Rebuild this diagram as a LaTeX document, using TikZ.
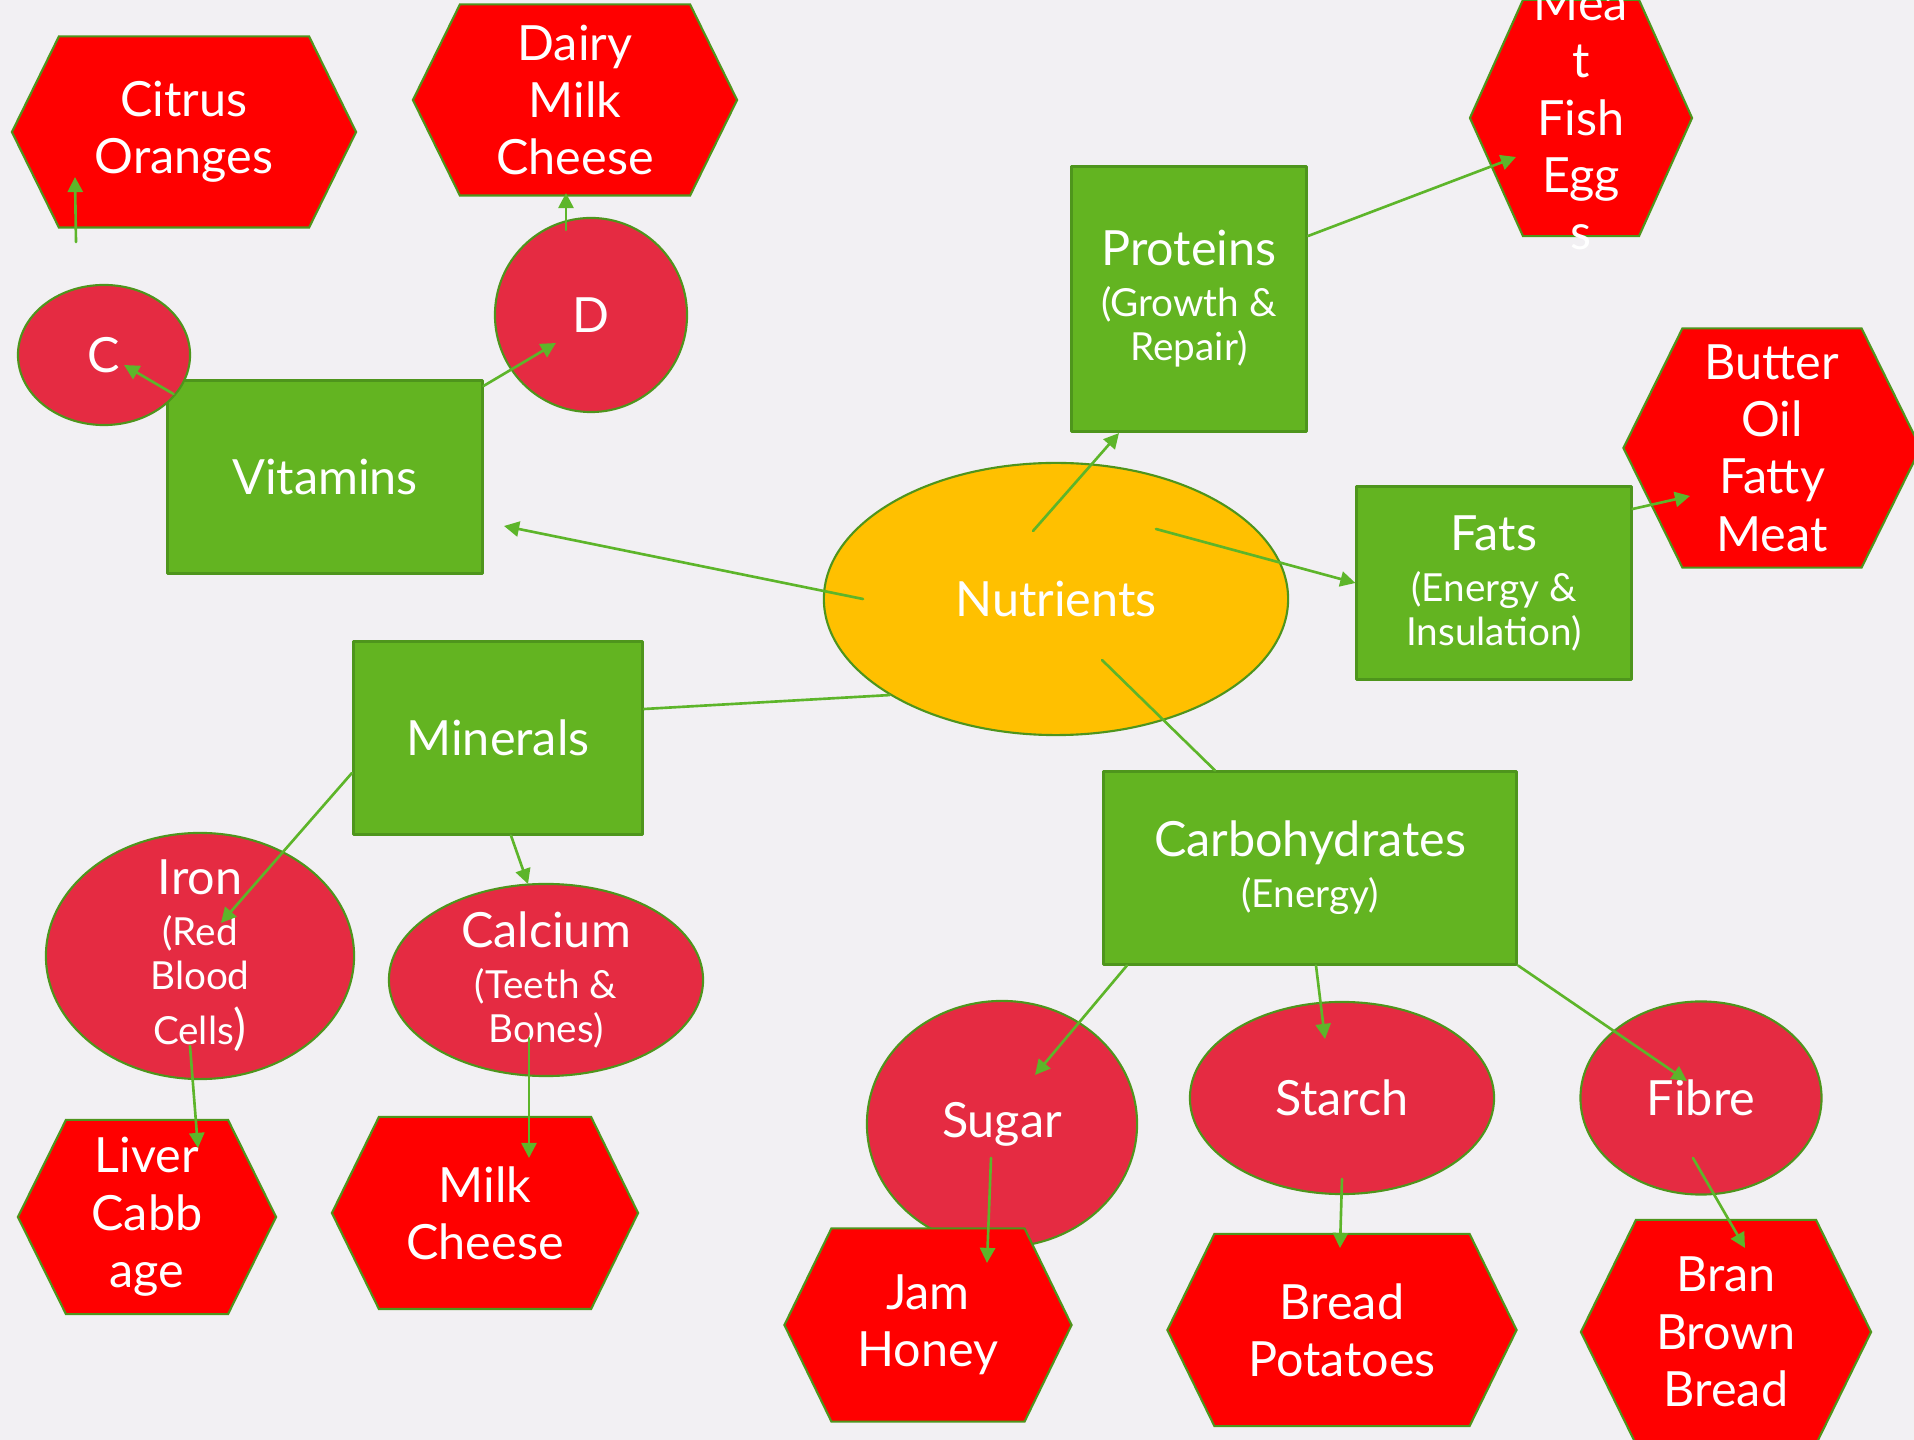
\documentclass[tikz,border=0pt]{standalone}
\usepackage{fontspec}
\setmainfont{Lato}
\usetikzlibrary{shapes.geometric,arrows.meta,calc}

\definecolor{bgcol}{HTML}{F2F0F3}
\definecolor{boxgreen}{HTML}{63B421}
\definecolor{boxedge}{HTML}{4E951C}
\definecolor{linkgreen}{HTML}{5DB52A}
\definecolor{itemred}{HTML}{E52B42}
\definecolor{foodred}{HTML}{FF0000}
\definecolor{coreyellow}{HTML}{FFC000}

\newcommand{\bigtxt}{\fontsize{13.8}{16.3}\selectfont}
\newcommand{\smalltxt}{\fontsize{11}{13.4}\selectfont}

\tikzset{
  topic/.style={rectangle, draw=boxedge, fill=boxgreen, line width=0.85pt, inner sep=0pt,
    text=white, align=center, font=\bigtxt},
  item/.style={ellipse, draw=boxedge, fill=itemred, line width=0.6pt, inner sep=0pt,
    text=white, align=center, font=\bigtxt},
  core/.style={ellipse, draw=boxedge, fill=coreyellow, line width=0.6pt, inner sep=0pt,
    text=white, font=\bigtxt},
  foodframe/.style={rectangle, inner sep=0pt, outer sep=0pt},
  foodshape/.style={draw=boxedge, fill=foodred, line width=0.6pt, line join=miter},
  foodtext/.style={text=white, align=center, font=\bigtxt},
  link/.style={draw=linkgreen, line width=0.75pt},
  arrow/.style={link, -{Triangle[length=4.3pt,width=4.3pt]}}
}

% food hexagon: name, centre, width, height, inset (px), text
\newcommand{\foodhex}[6]{%
  \node[foodframe, minimum width=#3, minimum height=#4] (#1) at (#2) {};
  \path[foodshape] (#1.west) -- ($(#1.north west)+(#5,0)$) -- ($(#1.north east)-(#5,0)$)
    -- (#1.east) -- ($(#1.south east)-(#5,0)$) -- ($(#1.south west)+(#5,0)$) -- cycle;
  \node[foodtext] (#1txt) at (#1) {#6};}

\begin{document}
\begin{tikzpicture}[x=0.01cm, y=-0.01cm, line join=round, line cap=round]
  \fill[bgcol] (0,0) rectangle (1914,1440);
  \useasboundingbox (0,0) rectangle (1914,1440);

  % nutrient groups
  \node[topic, minimum width=3.14cm, minimum height=1.93cm] (vit) at (325,477) {Vitamins};
  \node[item, minimum width=1.72cm, minimum height=1.40cm] (vc) at (104,355) {C};
  \node[item, minimum width=1.92cm, minimum height=1.94cm] (vd) at (591,315) {D};
  \node[core, minimum width=4.64cm, minimum height=2.72cm] (nutr) at (1056,599) {Nutrients};
  \node[topic, minimum width=2.35cm, minimum height=2.65cm] (prot) at (1189,299)
    {Proteins\\[-1.8pt]\smalltxt (Growth \&\\[-3.8pt]\smalltxt Repair)};
  \node[topic, minimum width=2.74cm, minimum height=1.93cm] (fats) at (1494,583)
    {Fats\\[-1.8pt]\smalltxt (Energy \&\\[-3.8pt]\smalltxt Insulation)};
  \node[topic, minimum width=2.89cm, minimum height=1.92cm] (miner) at (498,738) {Minerals};
  \node[topic, minimum width=4.13cm, minimum height=1.92cm] (carb) at (1310,868)
    {Carbohydrates\\[-1.8pt]\smalltxt (Energy)};

  % kinds
  \node[item, inner ysep=-6pt, minimum width=3.08cm, minimum height=2.46cm] (iron) at (200,956)
    {Iron\\[-1.8pt]\smalltxt (Red\\[-3.8pt]\smalltxt Blood\\[-0.7pt]\smalltxt Cells{\bigtxt )}};
  \node[item, inner ysep=-5pt, minimum width=3.14cm, minimum height=1.92cm] (calcium) at (546,980)
    {Calcium\\[-1.8pt]\smalltxt (Teeth \&\\[-3.8pt]\smalltxt Bones)};
  \node[item, minimum width=2.70cm, minimum height=2.46cm] (sugar) at (1002,1124) {Sugar};
  \node[item, minimum width=3.04cm, minimum height=1.92cm] (starch) at (1342,1098) {Starch};
  \node[item, minimum width=2.41cm, minimum height=1.93cm] (fibre) at (1701,1098) {Fibre};

  % foods
  \foodhex{citrus}{184,132}{3.44cm}{1.91cm}{47}{Citrus\\Oranges}
  \foodhex{dairy}{575,100}{3.24cm}{1.91cm}{47}{Dairy\\Milk\\Cheese}
  \foodhex{meat}{1581,118}{2.22cm}{2.36cm}{53}{Mea\\t\\Fish\\Egg\\s}
  \foodhex{butter}{1772,448}{2.97cm}{2.39cm}{59}{Butter\\Oil\\Fatty\\Meat}
  \foodhex{liver}{147,1217}{2.58cm}{1.94cm}{48}{Liver\\Cabb\\age}
  \foodhex{milk}{485,1213}{3.06cm}{1.92cm}{47}{Milk\\Cheese}
  \foodhex{jam}{928,1325}{2.87cm}{1.93cm}{47}{Jam\\Honey}
  \foodhex{bread}{1342,1330}{3.49cm}{1.92cm}{47}{Bread\\Potatoes}
  \foodhex{bran}{1726,1332}{2.90cm}{2.24cm}{55}{Bran\\Brown\\Bread}

  % connectors
  \draw[arrow] ($(nutr)+(-193,0)$) -- ($(vit)+(179,49)$);
  \draw[arrow] ($(nutr)+(-23,-68)$) -- ($(prot.south)+(-70,0)$);
  \draw[arrow] ($(prot.east)+(0,-63)$) -- ($(meat)+(-65,39)$);
  \draw[arrow] ($(nutr)+(100,-70)$) -- (fats.west);
  \draw[arrow] ($(fats.east)+(0,-74)$) -- ($(butter)+(-82,48)$);
  \draw[link] (nutr.210) -- ($(miner.east)+(0,-29)$);
  \draw[link] ($(nutr)+(46,61)$) -- ($(carb.north)+(-95,0)$);
  \draw[arrow] ($(vit.north west)+(7,15)$) -- ($(vc)+(20,10)$);
  \draw[arrow] ($(vit.north east)+(0,7)$) -- ($(vd)+(-35,28)$);
  \draw[arrow] ($(vc)+(-28,-113)$) -- ($(citrus)+(-109,45)$);
  \draw[arrow] ($(vd)+(-25,-85)$) -- ($(dairy)+(-9,93)$);
  \draw[arrow] ($(miner.west)+(0,35)$) -- ($(iron)+(21,-33)$);
  \draw[arrow] ($(miner.south)+(13,0)$) -- ($(calcium)+(-18,-96)$);
  \draw[arrow] ($(iron)+(-10,90)$) -- ($(liver)+(51,-69)$);
  \draw[arrow] ($(calcium)+(-17,58)$) -- ($(milk)+(44,-55)$);
  \draw[arrow] ($(carb.south west)+(25,0)$) -- ($(sugar)+(33,-49)$);
  \draw[arrow] ($(carb.south)+(6,0)$) -- ($(starch)+(-17,-59)$);
  \draw[arrow] (carb.south east) -- ($(fibre)+(-14,-17)$);
  \draw[arrow] ($(sugar)+(-11,34)$) -- ($(jam)+(59,-62)$);
  \draw[arrow] ($(starch)+(0,81)$) -- ($(bread)+(-2,-82)$);
  \draw[arrow] ($(fibre)+(-8,60)$) -- ($(bran)+(19,-84)$);
\end{tikzpicture}
\end{document}
